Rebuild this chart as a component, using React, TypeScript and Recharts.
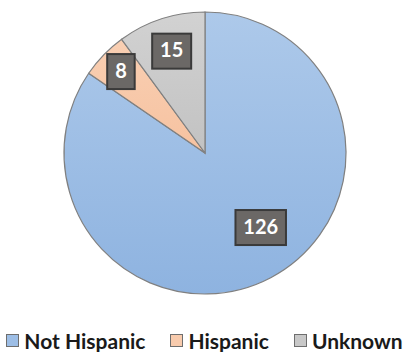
import React from "react";
import { PieChart, Pie, Cell, Legend } from "recharts";

const categories = ["Not Hispanic", "Hispanic", "Unknown"];
const counts = [126, 8, 15];
const fills = ["url(#gBlue)", "url(#gOrange)", "url(#gGrey)"];
const swatches = ["#9dbee6", "#f8cbad", "#c8c8c8"];

const data = categories.map((name, i) => ({ name, value: counts[i] }));

const RAD = Math.PI / 180;
const FONT = "Lato, 'Open Sans', sans-serif";

const renderLabel = (props: any) => {
  const { cx, cy, midAngle, outerRadius, value, percent } = props;
  const ratio = percent > 0.5 ? 0.66 : percent > 0.08 ? 0.76 : 0.83;
  const ang = percent > 0.5 ? midAngle + 9 : midAngle;
  const r = outerRadius * ratio;
  const x = cx + r * Math.cos(-ang * RAD);
  const y = cy + r * Math.sin(-ang * RAD);
  const text = String(value);
  const w = text.length * 11.5 + 16;
  const h = 35;
  return (
    <g>
      <rect x={x - w / 2} y={y - h / 2} width={w} height={h} fill="#6b6866" stroke="#3a3a3a" strokeWidth={2} />
      <text x={x} y={y + 1} fill="#ffffff" textAnchor="middle" dominantBaseline="middle" fontFamily={FONT} fontWeight={700} fontSize={20}>
        {text}
      </text>
    </g>
  );
};

const renderLegend = () => (
  <div style={{ display: "flex", justifyContent: "center", alignItems: "center", fontFamily: FONT, fontWeight: 700, fontSize: 21, color: "#1a1a1a", gap: 25 }}>
    {categories.map((c, i) => (
      <div key={c} style={{ display: "flex", alignItems: "center" }}>
        <span style={{ display: "inline-block", width: 11, height: 11, background: swatches[i], border: "1.5px solid #6e6e6e", marginRight: 5 }} />
        <span>{c}</span>
      </div>
    ))}
  </div>
);

export default function App() {
  return (
    <div style={{ position: "absolute", left: 0, top: 0, background: "#fff" }}>
      <PieChart width={409} height={352}>
        <defs>
          <linearGradient id="gBlue" x1="0" y1="0" x2="0" y2="1">
            <stop offset="0%" stopColor="#adc9ea" />
            <stop offset="100%" stopColor="#8eb3e0" />
          </linearGradient>
          <linearGradient id="gOrange" x1="0" y1="0" x2="0" y2="1">
            <stop offset="0%" stopColor="#f9cfb3" />
            <stop offset="100%" stopColor="#f6c2a0" />
          </linearGradient>
          <linearGradient id="gGrey" x1="0" y1="0" x2="0" y2="1">
            <stop offset="0%" stopColor="#d2d2d2" />
            <stop offset="100%" stopColor="#c2c2c2" />
          </linearGradient>
        </defs>
        <Pie
          data={data}
          dataKey="value"
          nameKey="name"
          cx={200}
          cy={148}
          outerRadius={141}
          startAngle={90}
          endAngle={-270}
          stroke="#808080"
          strokeWidth={1.2}
          label={renderLabel}
          labelLine={false}
          isAnimationActive={false}
        >
          {data.map((d, i) => (
            <Cell key={d.name} fill={fills[i]} />
          ))}
        </Pie>
        <Legend content={renderLegend} wrapperStyle={{ top: 328, left: 0, width: 409 }} />
      </PieChart>
    </div>
  );
}
